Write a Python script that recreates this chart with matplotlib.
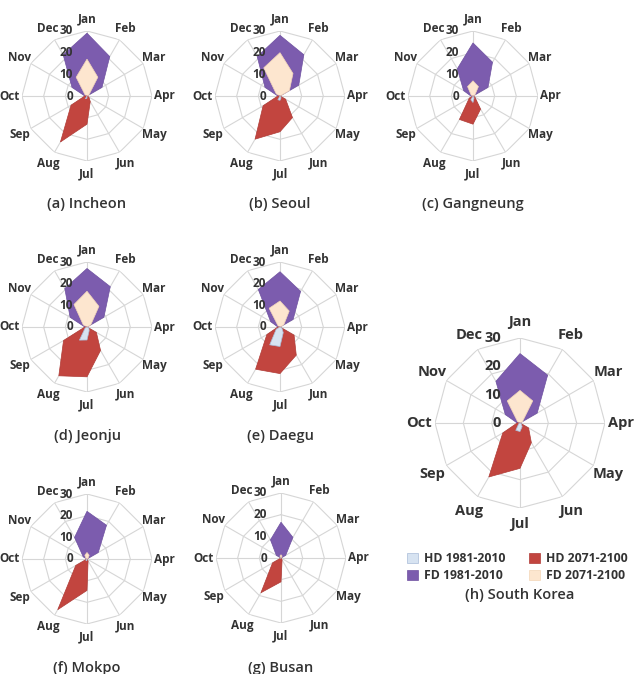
import numpy as np
import matplotlib
matplotlib.use("Agg")
import matplotlib.pyplot as plt
from matplotlib.patches import Patch

plt.rcParams['font.family'] = ['Open Sans', 'DejaVu Sans']

# Mesi e serie (giorni al mese)
months = ['Jan', 'Feb', 'Mar', 'Apr', 'May', 'Jun',
          'Jul', 'Aug', 'Sep', 'Oct', 'Nov', 'Dec']
ticks = [0, 10, 20, 30]

stations = ['(a) Incheon', '(b) Seoul', '(c) Gangneung', '(d) Jeonju',
            '(e) Daegu', '(f) Mokpo', '(g) Busan', '(h) South Korea']

hd_1981 = [
    [0, 0, 0, 0, 0, 0, 1, 1.5, 0, 0, 0, 0],
    [0, 0, 0, 0, 0, 1, 2, 2, 0, 0, 0, 0],
    [0, 0, 0, 0, 0, 1, 3, 2, 0, 0, 0, 0],
    [0, 0, 0, 0, 1, 2, 6, 7, 1, 0, 0, 0],
    [0, 0, 0, 0, 1, 3, 9, 9.5, 2, 0, 0, 0],
    [0, 0, 0, 0, 0, 0, 0.5, 1, 0, 0, 0, 0],
    [0, 0, 0, 0, 0, 0, 0, 0.5, 0, 0, 0, 0],
    [0, 0, 0, 0, 0.5, 1.5, 3, 3, 0.5, 0, 0, 0],
]
hd_2071 = [
    [0, 0, 0, 0, 1, 3, 13, 24.5, 8.5, 1, 0, 0],
    [0, 0, 0, 0, 3, 11.5, 16.5, 23, 9, 1, 0, 0],
    [0, 0, 0, 0, 1, 7, 13, 12.5, 2, 0, 0, 0],
    [0, 0, 0, 0, 5, 12.5, 23, 26, 12.5, 1, 0, 0],
    [0, 0, 0, 0, 7.5, 15, 21.5, 22.5, 7, 1, 0, 0],
    [0, 0, 0, 0, 0, 1, 14.5, 27, 6, 0, 0, 0],
    [0, 0, 0, 0, 0, 1, 11, 18.5, 4.5, 0, 0, 0],
    [0, 0, 0, 0, 3.5, 8, 16, 22, 7, 1, 0, 0],
]
fd_1981 = [
    [29, 21, 8, 0, 0, 0, 0, 0, 0, 1, 8, 22],
    [28, 22, 10, 0, 0, 0, 0, 0, 0, 1, 8, 21],
    [24.5, 18, 8, 0, 0, 0, 0, 0, 0, 1, 5, 14.5],
    [27, 21.5, 9, 0, 0, 0, 0, 0, 0, 1, 9, 20.5],
    [25.5, 19, 7, 0, 0, 0, 0, 0, 0, 1, 5, 20],
    [22, 18, 6, 0, 0, 0, 0, 0, 0, 0, 2, 11.5],
    [16.5, 11, 2.5, 0, 0, 0, 0, 0, 0, 0, 2.5, 9.7],
    [24.5, 19.5, 7, 0, 0, 0, 0, 0, 0, 1, 6, 17],
]
fd_2071 = [
    [17, 10, 1, 0, 0, 0, 0, 0, 0, 0, 1, 10],
    [20, 12, 5, 0, 0, 0, 0, 0, 0, 0, 2, 15],
    [7, 5, 1, 0, 0, 0, 0, 0, 0, 0, 1, 5],
    [16.5, 11, 2, 0, 0, 0, 0, 0, 0, 0, 2, 12],
    [12, 8.5, 2, 0, 0, 0, 0, 0, 0, 0, 1, 10],
    [3, 2, 0.5, 0, 0, 0, 0, 0, 0, 0, 0.5, 2],
    [1.5, 1, 0, 0, 0, 0, 0, 0, 0, 0, 0, 1],
    [11.5, 9, 1, 0, 0, 0, 0, 0, 0, 0, 1, 9],
]

colori = {'HD 1981-2010': '#d7e3f1', 'HD 2071-2100': '#c2453f',
          'FD 1981-2010': '#7c5cae', 'FD 2071-2100': '#fde6cf'}
bordi = {'HD 1981-2010': '#a9bcd8', 'HD 2071-2100': '#b03b36',
         'FD 1981-2010': '#6e50a0', 'FD 2071-2100': '#f3d6b8'}

# centro e raggio (pixel) di ogni grafico
centri = [(87, 96), (280, 96), (473, 96), (87, 327), (280, 327),
          (87, 559), (281, 558), (520, 423)]
raggi = [65, 65, 65, 65, 65, 65, 65, 85]
didascalie_y = [204, 204, 204, 436, 436, 668, 668, 595]

W, H = 638, 674
fig = plt.figure(figsize=(W / 100, H / 100), dpi=100)

theta = np.deg2rad(np.arange(12) * 30.0)
theta_c = np.append(theta, theta[0])
testo = '#333333'

for k in range(8):
    cx, cy = centri[k]
    R = raggi[k]
    big = (k == 7)
    ax = fig.add_axes([(cx - R) / W, (H - cy - R) / H, 2 * R / W, 2 * R / H],
                      projection='polar')
    ax.set_theta_zero_location('N')
    ax.set_theta_direction(-1)
    ax.set_ylim(0, 30)
    ax.set_axis_off()

    # griglia poligonale
    for r in ticks[1:]:
        ax.plot(theta_c, [r] * 13, color='#d6d6d6', lw=0.8, zorder=1)
    for t in theta:
        ax.plot([t, t], [0, 30], color='#d6d6d6', lw=0.8, zorder=1)

    dati = [fd_1981[k], fd_2071[k], hd_2071[k], hd_1981[k]]
    nomi = ['FD 1981-2010', 'FD 2071-2100', 'HD 2071-2100', 'HD 1981-2010']
    for z, (vals, nome) in enumerate(zip(dati, nomi)):
        v = np.append(vals, vals[0])
        ax.fill(theta_c, v, color=colori[nome], ec=bordi[nome], lw=0.5,
                zorder=2 + z)

    fs_m = 10.5 if big else 8.5
    for t, m in zip(theta, months):
        ax.text(t, 35.8, m, ha='center', va='center', fontsize=fs_m,
                fontweight='bold', color=testo, clip_on=False)
    for r in ticks:
        ax.annotate(str(r), xy=(0, r), xytext=(-19 if big else -14, 0),
                    textcoords='offset pixels', ha='right', va='center',
                    fontsize=fs_m, fontweight='bold', color=testo,
                    zorder=10)

    fig.text(cx / W, 1 - didascalie_y[k] / H, stations[k], ha='center',
             va='center', fontsize=10.5, fontweight='semibold', color=testo)

# Legenda
ordine = ['HD 1981-2010', 'FD 1981-2010', 'HD 2071-2100', 'FD 2071-2100']
handles = [Patch(facecolor=colori[n], edgecolor=bordi[n], lw=0.5, label=n)
           for n in ordine]
fig.legend(handles=handles, ncol=2, loc='upper left',
           bbox_to_anchor=(400 / W, 1 - 545 / H), frameon=False,
           prop={'weight': 'bold', 'size': 8.8}, handlelength=0.9,
           handleheight=0.9, handletextpad=0.5, columnspacing=1.9,
           labelspacing=0.3, labelcolor=testo, borderaxespad=0.2)

fig.savefig('out.png', dpi=100)
